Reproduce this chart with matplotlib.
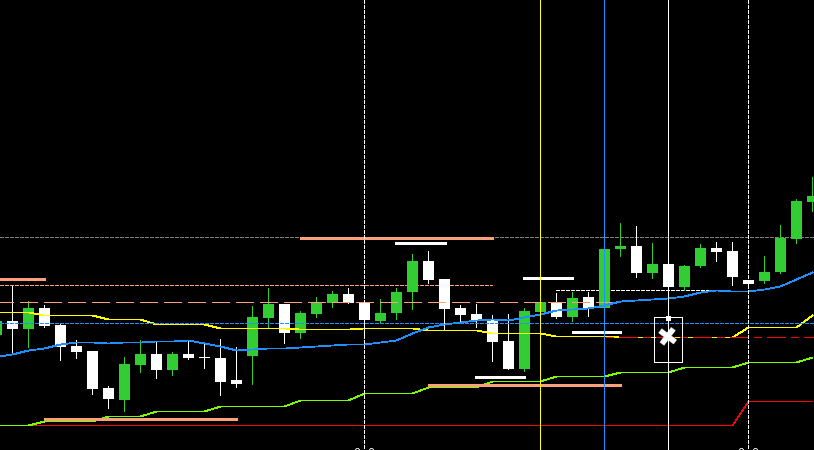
import matplotlib
matplotlib.use('Agg')
import matplotlib.pyplot as plt
from matplotlib.patches import Rectangle

# chart has no price axis, so prices are read as picture rows (y goes down)
bar_start = -1
tops = [321, 321, 308, 308, 325, 346, 351, 388, 364, 354, 354, 354, 354, 357, 358, 380, 317, 304,
        304, 313, 303, 294, 294, 303, 313, 292, 261, 261, 279, 308, 314, 320, 341, 311, 302,
        302, 298, 297, 249, 246, 246, 264, 264, 266, 248, 248, 251, 280, 272, 238, 201, 196]
bottoms = [335, 329, 329, 326, 347, 352, 389, 399, 400, 365, 370, 370, 358, 358, 382, 384, 356, 318,
           333, 333, 314, 303, 303, 320, 321, 313, 292, 280, 309, 315, 320, 342, 369, 369, 312,
           317, 317, 308, 308, 249, 273, 273, 287, 287, 266, 252, 277, 284, 281, 272, 239, 202]
highs = [315, 286, 301, 305, 324, 340, 351, 386, 357, 340, 342, 352, 341, 344, 339, 347, 306, 288,
         304, 311, 297, 291, 288, 303, 299, 288, 254, 251, 279, 305, 304, 315, 314, 308, 300,
         293, 292, 292, 249, 223, 226, 243, 264, 265, 244, 242, 242, 280, 256, 225, 199, 177]
lows = [340, 352, 347, 327, 360, 358, 394, 408, 411, 372, 378, 375, 359, 368, 395, 387, 384, 327,
        343, 338, 317, 307, 303, 334, 323, 319, 309, 283, 330, 321, 327, 361, 369, 371, 314,
        318, 321, 316, 308, 256, 277, 278, 287, 290, 267, 261, 285, 284, 283, 273, 243, 211]
is_up = [1, 0, 1, 0, 0, 0, 0, 0, 1, 1, 0, 1, 0, 0, 0, 0, 1, 1,
         0, 1, 1, 1, 0, 0, 1, 1, 1, 0, 0, 0, 0, 0, 0, 1, 1,
         0, 1, 0, 1, 1, 0, 1, 0, 1, 1, 0, 0, 0, 1, 1, 1, 1]

blue_ma = [356, 354, 350, 348, 344, 342, 342, 343, 342, 342, 341, 341, 340, 343, 346, 350, 349, 348,
           348, 347, 346, 345, 344, 344, 342, 340, 333, 327, 324, 322, 320, 319, 320, 317, 314,
           310, 309, 308, 305, 301, 300, 299, 298, 296, 292, 290, 291, 291, 289, 286, 279, 272]
yellow_ma = [312, 312, 312, 315, 315, 315, 315, 319, 319, 319, 324, 324, 324, 324, 328, 328, 328, 328,
             328, 329, 329, 329, 329, 328, 328, 328, 328, 330, 330, 330, 330, 333, 333, 333, 333,
             336, 336, 336, 336, 337, 337, 337, 337, 337, 337, 337, 337, 327, 327, 327, 327, 315]
lime_ma = [425, 425, 425, 421, 421, 421, 421, 416, 416, 416, 411, 411, 411, 411, 406, 406, 406, 406,
           406, 400, 400, 400, 400, 393, 393, 393, 393, 387, 387, 387, 387, 381, 381, 381, 381,
           376, 376, 376, 376, 372, 372, 372, 372, 367, 367, 367, 367, 362, 362, 362, 362, 357]
red_ma = [425] * 47 + [401] * 5

thick_salmon = [(0, 45, 279), (44, 237, 419), (300, 493, 238), (428, 621, 385)]
thick_white = [(395, 446, 243), (523, 573, 278), (572, 621, 332), (475, 525, 377)]

GREEN = '#32CD32'
SALMON = '#FFA07A'
PX = 0.72  # one pixel in points at dpi 100
THIN = 0.8 * PX

plt.rcParams['lines.scale_dashes'] = False
plt.rcParams['lines.antialiased'] = False

fig = plt.figure(figsize=(8.14, 4.5), dpi=100, facecolor='black')
ax = fig.add_axes([0, 0, 1, 1], facecolor='black')
ax.set_xlim(0, 814)
ax.set_ylim(450, 0)
ax.axis('off')


def bar_x(i):
    return 12 + 16 * (i + bar_start)


xs = [bar_x(i) for i in range(len(highs))]


def hline(y, x0=0, x1=814, color='white', dash=None, lw=THIN, z=2):
    ln, = ax.plot([x0, x1], [y, y], color=color, lw=lw, zorder=z, snap=True,
                  solid_capstyle='butt', dash_capstyle='butt')
    if dash:
        ln.set_linestyle((dash[1] * PX, [d * PX for d in dash[0]]))
    return ln


# horizontal levels
hline(237, color='#808080', dash=([3, 2], 0))
hline(285, 0, 492, color=SALMON, dash=([3, 2], 0))
hline(290, 556, 715, color='white', dash=([3, 2], 0))

# moving averages that sit behind the rest
ax.plot(xs, red_ma, color='#FF0000', lw=THIN, zorder=2.2, snap=True)
ax.plot(xs, lime_ma, color='#7CFC00', lw=THIN, zorder=2.3, snap=True)

# candles
for x, top, bot, hi, lo, up in zip(xs, tops, bottoms, highs, lows, is_up):
    col = GREEN if up else 'white'
    ax.plot([x, x], [hi, lo], color=col, lw=THIN, zorder=3, snap=True, solid_capstyle='butt')
    ax.add_patch(Rectangle((x - 5, top), 11, bot - top, facecolor=col, edgecolor='none', zorder=3,
                           antialiased=False))

hline(302, 0, 614, color=SALMON, dash=([18, 6], 4), z=3.5)
ax.plot(xs, yellow_ma, color='#FFFF00', lw=THIN, zorder=4, snap=True)
ax.plot(xs, blue_ma, color='#1E90FF', lw=THIN, zorder=4, snap=True)
hline(323, color='#1E90FF', dash=([3, 2], 0), z=4)
hline(337, 604, 814, color='#FF0000', dash=([18, 6, 6, 6], 21.8), z=4.1)

for x0, x1, y in thick_salmon:
    hline(y, x0, x1, color=SALMON, lw=3 * PX, z=5)
for x0, x1, y in thick_white:
    hline(y, x0, x1, color='white', lw=3 * PX, z=5)

# vertical markers
for x, col, dash in [(364, 'white', [3, 2]), (748, 'white', [3, 2]), (540, '#FFFF00', None),
                     (604, '#1E90FF', None), (668, 'white', None)]:
    ln, = ax.plot([x, x], [0, 450], color=col, lw=THIN, zorder=6, snap=True, dash_capstyle='butt')
    if dash:
        ln.set_linestyle((0, [d * PX for d in dash]))

# object box with its handle and close mark
ax.add_patch(Rectangle((654, 317), 28, 45, facecolor='none', edgecolor='white', lw=THIN, zorder=7,
                       antialiased=False, snap=True))
ax.add_patch(Rectangle((666, 316), 5, 5, facecolor='white', edgecolor='none', zorder=8, antialiased=False))
ax.text(668, 338.5, '\u2716', color='white', fontsize=19, rotation=8, ha='center', va='center', zorder=8)

# date labels, only the tops show above the lower edge
for x in [364, 748]:
    ax.text(x, 447.5, '0  0', color='white', fontsize=8, ha='center', va='top', zorder=8)

fig.savefig('out.png', dpi=100, facecolor='black')
